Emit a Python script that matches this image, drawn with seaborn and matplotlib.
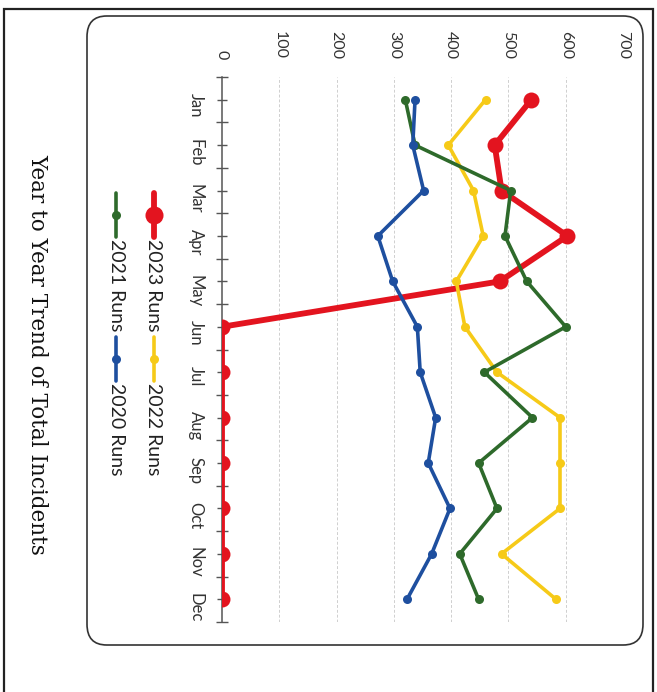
import numpy as np
import pandas as pd
import matplotlib
matplotlib.use("Agg")
import matplotlib.pyplot as plt
from matplotlib.lines import Line2D
from matplotlib.patches import FancyBboxPatch, Rectangle
import seaborn as sns

months = ["Jan", "Feb", "Mar", "Apr", "May", "Jun",
          "Jul", "Aug", "Sep", "Oct", "Nov", "Dec"]
runs_2023 = [540, 476, 488, 603, 485, 0, 0, 0, 0, 0, 0, 0]
runs_2022 = [460, 395, 439, 456, 409, 424, 480, 590, 590, 590, 488, 583]
runs_2021 = [320, 337, 504, 494, 532, 600, 458, 542, 448, 480, 415, 448]
runs_2020 = [337, 333, 352, 272, 298, 341, 346, 373, 360, 398, 366, 323]
value_ticks = [0, 100, 200, 300, 400, 500, 600, 700]
title = "Year to Year Trend of Total Incidents"

RED, YELLOW, GREEN, BLUE = "#E3141F", "#F6CA18", "#2E6A2B", "#1E4F9F"

sns.set_theme(style="white")
plt.rcParams["font.family"] = ["Lato", "DejaVu Sans"]

W, H = 657, 692
fig = plt.figure(figsize=(W / 100, H / 100), dpi=100)


def px(x, y):
    """image pixel (top-left origin) -> figure fraction"""
    return x / W, 1 - y / H


# page border + rounded chart frame
fig.add_artist(Rectangle(px(4, 720), 649 / W, 711 / H, transform=fig.transFigure,
                         fill=False, lw=1.6, ec="#222222"))
fig.add_artist(FancyBboxPatch(px(87, 645), 556 / W, 629 / H, transform=fig.transFigure,
                              boxstyle="round,pad=0,rounding_size=0.03",
                              fill=False, lw=1.2, ec="#333333"))

# chart is drawn turned a quarter turn: value axis across, months downward
x0, y0 = px(222, 622)
x1, y1 = px(623, 77)
ax = fig.add_axes([x0, y0, x1 - x0, y1 - y0])

idx = np.arange(len(months))
df = pd.DataFrame({"month": idx, "2023 Runs": runs_2023, "2022 Runs": runs_2022,
                   "2021 Runs": runs_2021, "2020 Runs": runs_2020})

styles = [("2023 Runs", RED, 4.2, 11.5),
          ("2022 Runs", YELLOW, 2.6, 6.5),
          ("2021 Runs", GREEN, 2.6, 6.5),
          ("2020 Runs", BLUE, 2.6, 6.5)]
for k, (col, color, lw, ms) in enumerate(styles):
    sns.lineplot(data=df, x=col, y="month", orient="y", sort=False, estimator=None,
                 color=color, lw=lw, marker="o", markersize=ms,
                 markeredgewidth=0, ax=ax, zorder=3 + k)

ax.set_xlim(0, 700)
ax.set_ylim(11.5, -0.5)
ax.set_xlabel("")
ax.set_ylabel("")

ax.set_xticks(value_ticks)
ax.set_xticklabels([str(v) for v in value_ticks])
ax.xaxis.tick_top()
ax.tick_params(axis="x", length=0, pad=13, labelsize=11.5, labelcolor="#333333",
               rotation=-90)

ax.set_yticks(idx)
ax.set_yticklabels(months)
ax.set_yticks(np.arange(-0.5, 12, 1), minor=True)
ax.tick_params(axis="y", which="minor", left=True, direction="inout", length=9,
               width=1, color="#555555")
ax.tick_params(axis="y", which="major", left=True, direction="inout", length=6.5,
               width=1, color="#555555", pad=10, labelsize=12,
               labelcolor="#333333", rotation=-90)

for s in ["top", "right", "bottom"]:
    ax.spines[s].set_visible(False)
ax.spines["left"].set_color("#555555")
ax.spines["left"].set_linewidth(1.1)
ax.spines["left"].set_zorder(2.5)

for v in value_ticks[1:]:
    ax.axvline(v, color="#cfcfcf", lw=0.7, ls=(0, (3, 2)), zorder=1)

# legend, drawn by hand so its text can turn with the chart
leg = [("2023 Runs", RED, 4.2, 13, 154, 193),
       ("2022 Runs", YELLOW, 2.6, 6.5, 154, 337),
       ("2021 Runs", GREEN, 2.6, 6.5, 116, 193),
       ("2020 Runs", BLUE, 2.6, 6.5, 116, 337)]
for name, color, lw, ms, lx, ly in leg:
    xa, ya = px(lx, ly)
    xb, yb = px(lx, ly + 44)
    fig.add_artist(Line2D([xa, xb], [ya, yb], transform=fig.transFigure,
                          color=color, lw=lw))
    fig.add_artist(Line2D([xa], [(ya + yb) / 2], transform=fig.transFigure,
                          color=color, marker="o", markersize=ms, markeredgewidth=0))
    tx, ty = px(lx, ly + 46)
    fig.text(tx, ty, name, rotation=-90, ha="center", va="top",
             fontsize=14, color="#222222")

tx, ty = px(37, 354)
fig.text(tx, ty, title, rotation=-90, ha="center", va="center",
         family=["DejaVu Serif"], fontsize=15.5, color="#111111")

fig.savefig("out.png", dpi=100)
